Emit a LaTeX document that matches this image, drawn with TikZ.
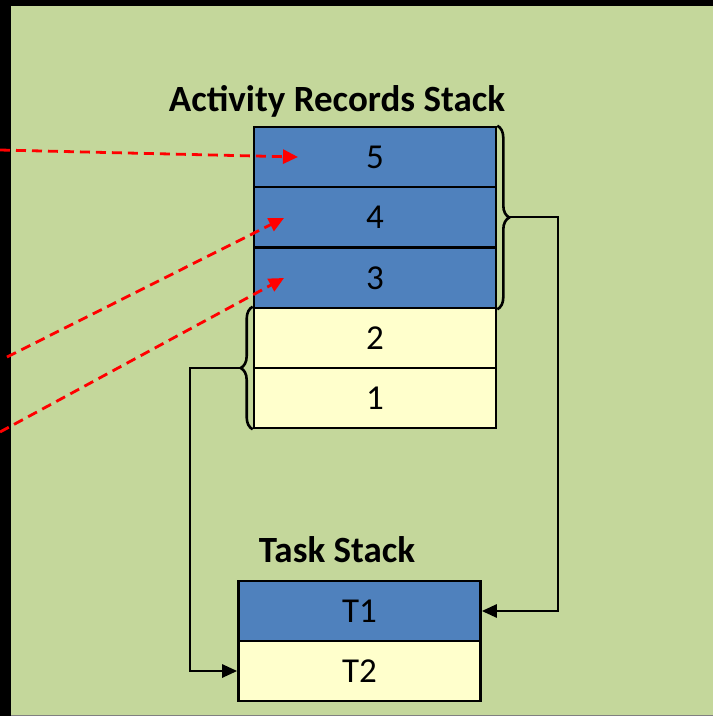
\documentclass[tikz,border=0pt]{standalone}
\usepackage{fontspec}
\setmainfont{Carlito}
\usetikzlibrary{arrows.meta,decorations.pathreplacing}

\definecolor{bggreen}{RGB}{196,215,155}
\definecolor{cellblue}{RGB}{79,129,189}
\definecolor{cellyellow}{RGB}{255,255,204}

\tikzset{
  cell/.style={draw, line width=2.6pt, minimum width=242pt, minimum height=60pt,
    inner sep=0pt, font=\fontsize{35}{40}\selectfont},
  bluecell/.style={cell, fill=cellblue},
  yellowcell/.style={cell, fill=cellyellow},
  title/.style={font=\fontsize{37}{42}\selectfont\bfseries},
  link/.style={line width=2.6pt, -{Triangle[length=15pt,width=13pt]}},
  jump/.style={red, dashed, line width=2.8pt, dash pattern=on 10pt off 6pt,
    -{Triangle[length=15pt,width=14pt]}},
  curly/.style={line width=2.6pt, decorate, decoration={brace, amplitude=12pt}}
}

\def\AX{375}
\def\TX{359.5}

\begin{document}
\begin{tikzpicture}[x=1pt, y=-1pt]
  \useasboundingbox (0,0) rectangle (713,716);
  \fill[bggreen] (0,0) rectangle (713,716);
  \fill[black] (0,0) rectangle (713,6);
  \fill[black] (0,0) rectangle (11,716);
  \draw[gray, line width=1pt] (11,715) -- (713,715);

  % activity records
  \node[title] (at) at (337,101) {Activity Records Stack};
  \node[bluecell]   (r5) at (\AX,157) {5};
  \node[bluecell]   (r4) at (\AX,217) {4};
  \node[bluecell]   (r3) at (\AX,278) {3};
  \node[yellowcell] (r2) at (\AX,338) {2};
  \node[yellowcell] (r1) at (\AX,398) {1};

  % task stack
  \node[title] (tt) at (337,550) {Task Stack};
  \node[bluecell]   (t1) at (\TX,611) {T1};
  \node[yellowcell] (t2) at (\TX,671) {T2};

  % braces
  \draw[curly] (r5.north east) -- (r3.south east);
  \draw[curly] (r1.south west) -- (r2.north west);
  \coordinate (bR) at (508,217);
  \coordinate (bL) at (241,368);
  \draw[link] (bR) -- (558,217) |- (t1.east);
  \draw[link] (bL) -- (190,368) |- (t2.west);

  % incoming
  \coordinate (s5) at (0,150);
  \coordinate (s4) at (7,357);
  \coordinate (s3) at (0,432);
  \coordinate (e5) at (298,157);
  \coordinate (e4) at (284,218);
  \coordinate (e3) at (284,278);
  \draw[jump] (s5) -- (e5);
  \draw[jump] (s4) -- (e4);
  \draw[jump] (s3) -- (e3);
\end{tikzpicture}
\end{document}
